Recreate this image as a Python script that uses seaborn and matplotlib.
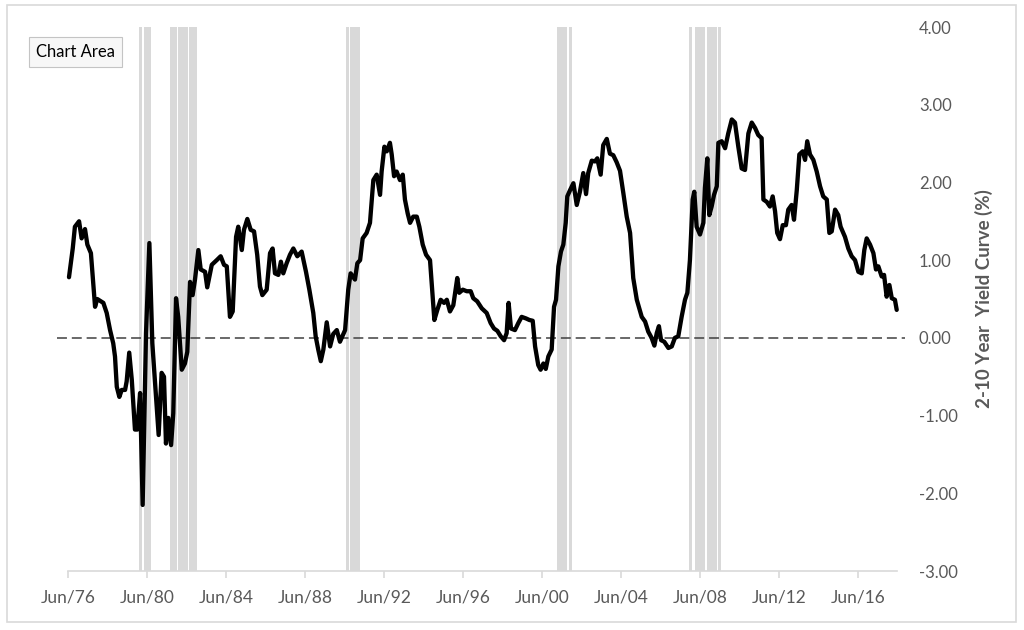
import matplotlib
matplotlib.use("Agg")
import matplotlib.pyplot as plt
from matplotlib.patches import Rectangle
import seaborn as sns
import pandas as pd

# ---- data (decimal years, 2-10 year spread in %) ----
years = [
    1976.55, 1976.74, 1976.85, 1977.06, 1977.19, 1977.36, 1977.48, 1977.66, 1977.87, 1977.98,
    1978.29, 1978.46, 1978.63, 1978.79, 1978.88, 1978.97, 1979.10, 1979.22, 1979.39, 1979.47,
    1979.60, 1979.73, 1979.89, 1980.01, 1980.15, 1980.28, 1980.45, 1980.62, 1980.77, 1980.96,
    1981.09, 1981.24, 1981.36, 1981.46, 1981.58, 1981.72, 1981.83, 1981.97, 1982.08, 1982.26,
    1982.42, 1982.54, 1982.68, 1982.81, 1982.93, 1983.10, 1983.22, 1983.44, 1983.55, 1983.78,
    1984.03, 1984.23, 1984.40, 1984.54, 1984.70, 1984.84, 1985.01, 1985.12, 1985.30, 1985.41,
    1985.58, 1985.75, 1985.92, 1986.08, 1986.22, 1986.34, 1986.56, 1986.73, 1986.86, 1986.98,
    1987.15, 1987.28, 1987.40, 1987.57, 1987.74, 1987.91, 1988.11, 1988.33, 1988.55, 1988.72,
    1988.92, 1989.04, 1989.17, 1989.30, 1989.43, 1989.60, 1989.77, 1989.93, 1990.11, 1990.27,
    1990.53, 1990.69, 1990.81, 1991.03, 1991.15, 1991.29, 1991.42, 1991.62, 1991.79, 1991.96,
    1992.13, 1992.30, 1992.38, 1992.52, 1992.64, 1992.80, 1992.89, 1993.01, 1993.14, 1993.31,
    1993.45, 1993.56, 1993.70, 1993.82, 1993.98, 1994.16, 1994.29, 1994.46, 1994.63, 1994.83,
    1995.05, 1995.20, 1995.37, 1995.54, 1995.68, 1995.84, 1996.01, 1996.21, 1996.31, 1996.49,
    1996.69, 1996.89, 1997.02, 1997.22, 1997.45, 1997.70, 1997.90, 1998.07, 1998.24, 1998.41,
    1998.58, 1998.71, 1998.81, 1998.93, 1999.13, 1999.30, 1999.47, 1999.69, 1999.86, 2000.03,
    2000.15, 2000.31, 2000.43, 2000.57, 2000.69, 2000.82, 2000.99, 2001.11, 2001.21, 2001.33,
    2001.46, 2001.58, 2001.70, 2001.78, 2001.92, 2002.09, 2002.26, 2002.42, 2002.59, 2002.73,
    2002.84, 2003.02, 2003.18, 2003.30, 2003.47, 2003.60, 2003.78, 2003.94, 2004.11, 2004.28,
    2004.45, 2004.62, 2004.79, 2004.96, 2005.12, 2005.30, 2005.55, 2005.72, 2005.88, 2006.05,
    2006.19, 2006.31, 2006.42, 2006.53, 2006.69, 2006.90, 2007.07, 2007.23, 2007.40, 2007.57,
    2007.74, 2007.86, 2007.99, 2008.13, 2008.21, 2008.33, 2008.50, 2008.67, 2008.75, 2008.87,
    2008.97, 2009.09, 2009.21, 2009.35, 2009.43, 2009.60, 2009.77, 2009.93, 2010.11, 2010.27,
    2010.44, 2010.61, 2010.78, 2010.95, 2011.12, 2011.29, 2011.45, 2011.62, 2011.71, 2011.88,
    2012.04, 2012.18, 2012.30, 2012.41, 2012.55, 2012.69, 2012.85, 2012.97, 2013.14, 2013.26,
    2013.40, 2013.53, 2013.70, 2013.82, 2013.93, 2014.07, 2014.24, 2014.41, 2014.58, 2014.74,
    2014.92, 2015.05, 2015.17, 2015.34, 2015.50, 2015.62, 2015.84, 2016.01, 2016.18, 2016.35,
    2016.52, 2016.69, 2016.82, 2016.94, 2017.11, 2017.28, 2017.41, 2017.53, 2017.70, 2017.82,
    2017.95, 2018.09, 2018.21, 2018.37, 2018.46,
]
spread = [
    0.78, 1.15, 1.43, 1.50, 1.28, 1.40, 1.20, 1.09, 0.40, 0.50,
    0.45, 0.32, 0.10, -0.07, -0.24, -0.63, -0.76, -0.67, -0.67, -0.56,
    -0.19, -0.54, -1.18, -1.18, -0.71, -2.15, 0.06, 1.22, -0.07, -0.76,
    -1.25, -0.45, -0.50, -1.36, -1.03, -1.38, -0.97, 0.51, 0.27, -0.41,
    -0.33, -0.18, 0.72, 0.55, 0.75, 1.13, 0.88, 0.85, 0.65, 0.94,
    1.00, 1.05, 0.94, 0.92, 0.27, 0.34, 1.30, 1.43, 1.13, 1.39,
    1.53, 1.39, 1.37, 1.07, 0.66, 0.55, 0.62, 1.09, 1.15, 0.83,
    0.81, 0.98, 0.83, 0.96, 1.07, 1.15, 1.05, 1.11, 0.85, 0.62,
    0.32, 0.02, -0.15, -0.30, -0.15, 0.20, -0.11, 0.05, 0.10, -0.05,
    0.10, 0.62, 0.83, 0.75, 0.96, 1.00, 1.28, 1.35, 1.48, 2.03,
    2.10, 1.84, 2.14, 2.46, 2.40, 2.51, 2.36, 2.08, 2.14, 2.03,
    2.10, 1.78, 1.60, 1.48, 1.56, 1.56, 1.43, 1.20, 1.07, 1.00,
    0.23, 0.36, 0.49, 0.45, 0.49, 0.34, 0.42, 0.77, 0.58, 0.62,
    0.60, 0.60, 0.51, 0.47, 0.38, 0.32, 0.19, 0.12, 0.09, 0.02,
    -0.03, 0.06, 0.45, 0.12, 0.10, 0.19, 0.27, 0.25, 0.23, 0.22,
    -0.11, -0.35, -0.41, -0.33, -0.40, -0.24, -0.15, 0.40, 0.49, 0.92,
    1.11, 1.20, 1.48, 1.82, 1.90, 1.99, 1.71, 1.88, 2.12, 1.85,
    2.12, 2.28, 2.27, 2.31, 2.10, 2.48, 2.56, 2.37, 2.35, 2.26,
    2.15, 1.86, 1.56, 1.35, 0.77, 0.49, 0.27, 0.21, 0.08, 0.00,
    -0.10, 0.06, 0.15, -0.03, -0.05, -0.13, -0.11, 0.00, 0.02, 0.27,
    0.49, 0.58, 1.00, 1.78, 1.88, 1.43, 1.33, 1.48, 1.93, 2.31,
    1.58, 1.69, 1.84, 1.95, 2.51, 2.53, 2.44, 2.63, 2.81, 2.77,
    2.46, 2.18, 2.16, 2.63, 2.77, 2.70, 2.61, 2.57, 1.78, 1.75,
    1.69, 1.82, 1.63, 1.35, 1.27, 1.45, 1.45, 1.65, 1.71, 1.52,
    1.90, 2.36, 2.40, 2.29, 2.53, 2.36, 2.29, 2.14, 1.95, 1.82,
    1.78, 1.35, 1.37, 1.65, 1.58, 1.43, 1.30, 1.15, 1.05, 1.00,
    0.85, 0.83, 1.13, 1.28, 1.20, 1.09, 0.88, 0.92, 0.79, 0.81,
    0.53, 0.68, 0.51, 0.49, 0.36,
]

# recession shading segments (start year, end year)
recession_start = [1980.09, 1980.33, 1981.65, 1982.07, 1982.64, 1990.58, 1990.78,
                   2001.26, 2001.85, 2007.94, 2008.24, 2008.85, 2009.41]
recession_end = [1980.25, 1980.70, 1982.02, 1982.58, 1983.02, 1990.73, 1991.31,
                 2001.75, 2002.00, 2008.09, 2008.75, 2009.36, 2009.56]

xtick_pos = [1976.5, 1980.5, 1984.5, 1988.5, 1992.5, 1996.5, 2000.5, 2004.5,
             2008.5, 2012.5, 2016.5]
xtick_labels = ["Jun/76", "Jun/80", "Jun/84", "Jun/88", "Jun/92", "Jun/96",
                "Jun/00", "Jun/04", "Jun/08", "Jun/12", "Jun/16"]
ytick_pos = [-3, -2, -1, 0, 1, 2, 3, 4]
ytick_labels = ["-3.00", "-2.00", "-1.00", "0.00", "1.00", "2.00", "3.00", "4.00"]
y_label = "2-10 Year  Yield Curve (%)"

df = pd.DataFrame({"year": years, "spread": spread})

sns.set_theme(style="white")
plt.rcParams["font.family"] = ["Lato", "DejaVu Sans"]
plt.rcParams["axes.unicode_minus"] = False

fig = plt.figure(figsize=(10.24, 6.30), dpi=100)
ax = fig.add_axes([57 / 1024, 59 / 630, 848 / 1024, 544 / 630])

ymin, ymax = -3, 4
# recession bars
widths = [e - s for s, e in zip(recession_start, recession_end)]
ax.bar(recession_start, [ymax - ymin] * len(recession_start), width=widths,
       bottom=ymin, align="edge", color="#d9d9d9", linewidth=0, zorder=1)

# zero line
ax.axhline(0, color="#404040", lw=1.1, linestyle=(0, (6.5, 3.2)), zorder=2)

sns.lineplot(data=df, x="year", y="spread", ax=ax, color="black", lw=3.1,
             estimator=None, sort=True, zorder=3)

ax.set_xlim(1975.943, 2018.88)
ax.set_ylim(ymin, ymax)

ax.set_xticks(xtick_pos)
ax.set_xticklabels(xtick_labels)
ax.set_yticks(ytick_pos)
ax.set_yticklabels(ytick_labels)

ax.yaxis.tick_right()
ax.yaxis.set_label_position("right")
ax.set_xlabel("")
ax.set_ylabel(y_label, fontsize=13.5, fontweight="bold", color="#595959", labelpad=12)

for s in ["top", "left", "right"]:
    ax.spines[s].set_visible(False)
ax.spines["bottom"].set_color("#d9d9d9")
ax.spines["bottom"].set_linewidth(1.2)
ax.spines["bottom"].set_bounds(1976.5, 2018.47)
ax.spines["bottom"].set_zorder(4)

ax.tick_params(axis="x", which="both", bottom=True, length=5, width=1.2,
               color="#d9d9d9", labelsize=12.5, labelcolor="#595959", pad=8)
ax.tick_params(axis="y", which="both", right=False, left=False, length=0,
               labelsize=12, labelcolor="#595959", pad=10)
ax.grid(False)

# outer chart frame
fig.patches.append(Rectangle((7 / 1024, 8 / 630), 1009 / 1024, 617 / 630,
                             transform=fig.transFigure, fill=False,
                             edgecolor="#d9d9d9", linewidth=1.2))

# "Chart Area" tooltip
fig.text(36 / 1024, (630 - 52) / 630, "Chart Area", fontsize=12, color="black",
         va="center", ha="left", family=["Lato", "DejaVu Sans"],
         bbox=dict(boxstyle="square,pad=0.4", facecolor="#f7f7f7",
                   edgecolor="#c4c4c4", linewidth=0.8))

fig.savefig("out.png", dpi=100, facecolor="white")
